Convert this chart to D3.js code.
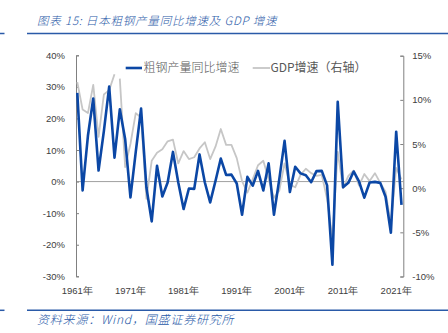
<!DOCTYPE html>
<html><head><meta charset="utf-8">
<script src="https://cdn.jsdelivr.net/npm/d3@7/dist/d3.min.js"></script>
<style>body{margin:0;background:#fff}svg{display:block}</style>
</head><body><svg id="c" width="448" height="333"></svg>
<script>
const years = [1961,1962,1963,1964,1965,1966,1967,1968,1969,1970,1971,1972,1973,1974,1975,1976,1977,1978,1979,1980,1981,1982,1983,1984,1985,1986,1987,1988,1989,1990,1991,1992,1993,1994,1995,1996,1997,1998,1999,2000,2001,2002,2003,2004,2005,2006,2007,2008,2009,2010,2011,2012,2013,2014,2015,2016,2017,2018,2019,2020,2021,2022];
// 粗钢产量同比增速 (%), left axis
const steel = [28.1,-2.8,14.5,26.3,3.5,16.0,30.1,7.6,22.9,13.5,-5.0,9.4,23.1,-1.8,-12.6,5.0,-4.7,-0.3,9.4,-0.3,-8.7,-2.2,-2.3,8.6,-0.3,-6.6,0.2,7.3,2.1,2.2,-0.6,-10.5,1.5,-1.3,3.4,-2.8,5.8,-10.5,0.7,12.9,-3.3,4.7,2.6,2.0,-0.2,3.3,3.4,-1.2,-26.3,25.3,-1.8,-0.4,3.2,0.1,-5.1,-0.3,-0.1,-0.4,-4.8,-16.2,15.8,-7.4];
// GDP增速 (%), right axis
const gdp = [12.0,8.9,8.5,11.7,5.8,10.6,11.1,12.9,12.4,2.4,5.0,8.5,8.0,-1.2,3.1,4.0,4.4,5.3,5.5,2.8,4.2,3.3,3.5,4.5,5.2,3.3,4.7,6.7,4.9,4.9,3.4,0.8,-0.5,1.0,2.6,3.1,1.0,-1.1,-0.3,2.8,0.4,0.1,1.5,2.2,1.7,1.4,1.5,-1.2,-5.7,4.1,0.0,1.4,2.0,0.3,1.6,0.8,1.7,0.6,-0.4,-4.1,2.3,1.0];
const gdpBreakYear = 1969; // the GDP line is broken before this year
const leftTicks = [-30,-20,-10,0,10,20,30,40];
const rightTicks = [-10,-5,0,5,10,15];
const xLabelYears = [1961,1971,1981,1991,2001,2011,2021];
const titleText = "图表 15:  日本粗钢产量同比增速及 GDP 增速";
const sourceText = "资料来源：Wind，国盛证券研究所";
const legendNames = ["粗钢产量同比增速","GDP增速（右轴）"];

const svg = d3.select("#c");
const blue = "#0b47a5", grey = "#c6c6c6", axisCol = "#808080", textCol = "#404040", hdr = "#2a5aa8";
const x = d3.scaleLinear().domain([1961,2022]).range([77.3,401.5]);
const yL = d3.scaleLinear().domain([-30,40]).range([276.3,55.3]);
const yR = d3.scaleLinear().domain([-10,15]).range([276.5,55.7]);

// header / footer
svg.append("text").attr("x",37).attr("y",25).attr("fill",hdr)
  .attr("font-family","'Noto Sans CJK SC',sans-serif").attr("font-size",11.5).attr("font-style","italic")
  .attr("font-weight",300).attr("letter-spacing",0.8)
  .text(titleText);
[33.5,310.3].forEach(yy=>{
  svg.append("line").attr("x1",0).attr("x2",4.5).attr("y1",yy).attr("y2",yy).attr("stroke",hdr).attr("stroke-width",1.5);
  svg.append("line").attr("x1",27).attr("x2",448).attr("y1",yy).attr("y2",yy).attr("stroke",hdr).attr("stroke-width",1.5);
});
svg.append("text").attr("x",37).attr("y",324).attr("fill",hdr)
  .attr("font-family","'Noto Sans CJK SC',sans-serif").attr("font-size",12).attr("font-style","italic")
  .attr("font-weight",300).attr("letter-spacing",0.8)
  .text(sourceText);

// zero line
svg.append("line").attr("x1",76).attr("x2",403.3).attr("y1",yL(0)).attr("y2",yL(0))
  .attr("stroke","#a0a0a0").attr("stroke-width",1);

// axes
const fontAx = "'Liberation Sans',Arial,sans-serif";
const gL = svg.append("g").attr("transform","translate(76,0)")
  .call(d3.axisLeft(yL).tickValues(leftTicks).tickFormat(d=>d+"%").tickSize(-3).tickSizeOuter(-3).tickPadding(11));
const gR = svg.append("g").attr("transform","translate(403.3,0)")
  .call(d3.axisRight(yR).tickValues(rightTicks).tickFormat(d=>d+"%").tickSize(-3).tickSizeOuter(-3).tickPadding(9));
[gL,gR].forEach(g=>{
  g.selectAll("path,line").attr("stroke",axisCol);
  g.selectAll("text").attr("fill",textCol).attr("font-family",fontAx).attr("font-size",9.5);
});

// x labels
svg.append("g").selectAll("text").data(xLabelYears).join("text")
  .attr("x",d=>x(d)).attr("y",293.5).attr("text-anchor","middle")
  .attr("fill",textCol).attr("font-family",fontAx).attr("font-size",9.5)
  .text(d=>d+"年");

// GDP line (two segments)
const gd = years.map((yr,i)=>({yr,v:gdp[i]}));
const lineR = d3.line().x(d=>x(d.yr)).y(d=>yR(d.v));
[gd.filter(d=>d.yr<gdpBreakYear), gd.filter(d=>d.yr>=gdpBreakYear)].forEach(seg=>{
  svg.append("path").datum(seg).attr("d",lineR).attr("fill","none")
    .attr("stroke",grey).attr("stroke-width",1.8).attr("stroke-linejoin","round");
});
// steel line
const sd = years.map((yr,i)=>({yr,v:steel[i]}));
svg.append("path").datum(sd).attr("d",d3.line().x(d=>x(d.yr)).y(d=>yL(d.v)))
  .attr("fill","none").attr("stroke",blue).attr("stroke-width",2.6).attr("stroke-linejoin","round");

// legend
const lg = svg.append("g").attr("font-family","'Noto Sans CJK SC',sans-serif").attr("font-size",12).attr("fill","#595959");
lg.append("line").attr("x1",125.7).attr("x2",142).attr("y1",68).attr("y2",68).attr("stroke",blue).attr("stroke-width",2.6);
lg.append("text").attr("x",143.5).attr("y",72.3).attr("font-weight",300).text(legendNames[0]);
lg.append("line").attr("x1",252.7).attr("x2",270).attr("y1",68).attr("y2",68).attr("stroke",grey).attr("stroke-width",1.8);
lg.append("text").attr("x",270.5).attr("y",72.3).text(legendNames[1]);
</script></body></html>
